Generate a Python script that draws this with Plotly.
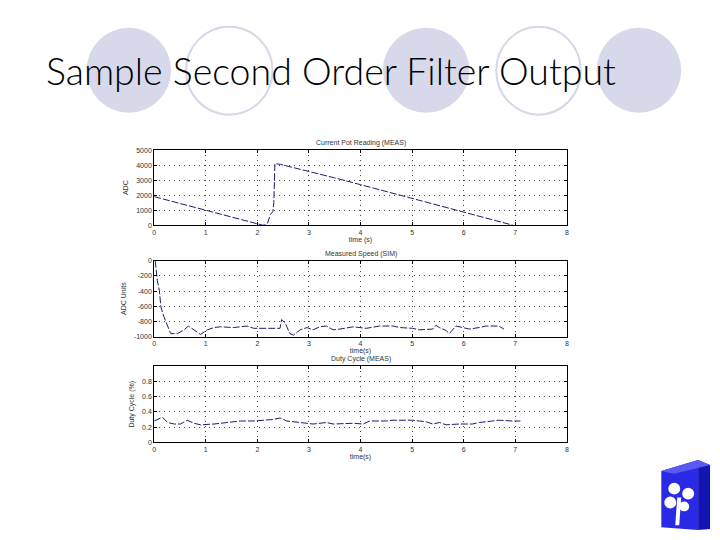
import plotly.graph_objects as go

# ---- data ----
pot_time = [0, 0.5, 1.0, 1.5, 1.8, 2.0, 2.05, 2.1, 2.15, 2.2, 2.25, 2.3, 2.32, 2.33, 2.34,
            2.45, 3.0, 3.5, 4.0, 4.5, 5.0, 5.5, 6.0, 6.5, 6.95]
pot_adc = [1900, 1450, 1000, 550, 280, 100, 20, 0, 20, 150, 700, 900, 1500, 2600, 4100,
           4050, 3600, 3150, 2700, 2250, 1800, 1350, 900, 450, 0]

speed_time = [0.02, 0.06, 0.1, 0.13, 0.19, 0.26, 0.32, 0.45, 0.58, 0.66, 0.77, 0.9, 1.03,
              1.16, 1.29, 1.54, 1.8, 1.93, 2.44, 2.47, 2.54, 2.63, 2.7, 2.83, 2.96, 3.08,
              3.21, 3.34, 3.47, 3.6, 3.86, 4.11, 4.37, 4.63, 4.76, 5.01, 5.14, 5.4, 5.46,
              5.53, 5.66, 5.72, 5.85, 5.98, 6.11, 6.3, 6.43, 6.68, 6.78]
speed_adc = [0, -260, -390, -610, -740, -870, -960, -960, -910, -860, -910, -970, -910,
             -880, -870, -880, -860, -890, -890, -775, -820, -960, -980, -910, -880, -910,
             -870, -860, -910, -900, -870, -890, -860, -860, -880, -890, -910, -900, -850,
             -880, -920, -960, -860, -880, -900, -880, -860, -860, -900]

duty_time = [0.0, 0.16, 0.26, 0.39, 0.51, 0.64, 0.77, 0.9, 1.16, 1.41, 1.67, 1.93, 2.06,
             2.31, 2.44, 2.57, 2.83, 3.08, 3.34, 3.47, 3.86, 4.05, 4.18, 4.5, 4.63, 5.01,
             5.14, 5.27, 5.4, 5.53, 5.66, 5.91, 6.17, 6.3, 6.56, 6.68, 6.94, 7.1]
duty_pct = [0.28, 0.33, 0.26, 0.24, 0.24, 0.29, 0.25, 0.23, 0.24, 0.26, 0.28, 0.28, 0.29,
            0.30, 0.32, 0.28, 0.26, 0.24, 0.26, 0.24, 0.25, 0.24, 0.28, 0.28, 0.29, 0.29,
            0.28, 0.27, 0.24, 0.26, 0.23, 0.24, 0.24, 0.26, 0.28, 0.29, 0.28, 0.28]

x_ticks = [0, 1, 2, 3, 4, 5, 6, 7, 8]
pot_ticks = [0, 1000, 2000, 3000, 4000, 5000]
speed_ticks = [0, -200, -400, -600, -800, -1000]
duty_ticks = [0, 0.2, 0.4, 0.6, 0.8]
duty_tick_text = ["0", "0.2", "0.4", "0.6", "0.8"]

titles = ["Current Pot Reading (MEAS)", "Measured Speed (SIM)", "Duty Cycle (MEAS)"]
x_titles = ["time (s)", "time(s)", "time(s)"]
y_titles = ["ADC", "ADC Units", "Duty Cycle (%)"]
slide_title = "Sample Second Order Filter Output"

# page body has an 8px margin; draw a 712x532 figure and shift page coords by 8px
OFF = 8
W, H = 720 - OFF, 540 - OFF
def px(x): return (x - OFF) / W
def py(y): return 1 - (y - OFF) / H

fig = go.Figure()
line_color = "#1c1c6c"
series = [(pot_time, pot_adc), (speed_time, speed_adc), (duty_time, duty_pct)]
for i, (xs, ys) in enumerate(series):
    fig.add_trace(go.Scatter(x=xs, y=ys, mode="lines",
                             line=dict(color=line_color, width=1, dash="7px,2px"),
                             xaxis="x" if i == 0 else f"x{i+1}",
                             yaxis="y" if i == 0 else f"y{i+1}",
                             showlegend=False, hoverinfo="skip"))

boxes = [(148, 224), (260, 337), (367, 444)]
x0, x1 = 153, 568
yranges = [[0, 5000], [-1000, 0], [0, 1]]
ytv = [pot_ticks, speed_ticks, duty_ticks]
ytt = [[str(v) for v in pot_ticks], [str(v) for v in speed_ticks], duty_tick_text]

small = dict(family="Liberation Sans, Arial", size=7, color="#333")
layout = {}
for i in range(3):
    sx = "" if i == 0 else str(i + 1)
    top, bot = boxes[i]
    common = dict(showline=True, mirror="ticks", linecolor="black", linewidth=1,
                  ticks="inside", ticklen=3, tickcolor="black", showgrid=True,
                  gridcolor="#444", griddash="1px,4px", gridwidth=1, zeroline=False,
                  tickfont=small)
    layout[f"xaxis{sx}"] = dict(domain=[px(x0), px(x1)], range=[0, 8], tickvals=x_ticks,
                                anchor=f"y{sx}",
                                title=dict(text=x_titles[i], font=small, standoff=2), **common)
    layout[f"yaxis{sx}"] = dict(domain=[py(bot), py(top)], range=yranges[i],
                                tickvals=ytv[i], ticktext=ytt[i], anchor=f"x{sx}",
                                title=dict(text=y_titles[i], font=small, standoff=6), **common)

annotations = []
for i in range(3):
    top, bot = boxes[i]
    annotations.append(dict(text=titles[i], xref="paper", yref="paper",
                            x=px((x0 + x1) / 2), y=py(top - 1), xanchor="center",
                            yanchor="bottom", showarrow=False, font=small))
annotations.append(dict(text=slide_title, xref="paper", yref="paper", x=px(42), y=py(67),
                        xanchor="left", yanchor="middle", showarrow=False,
                        font=dict(family="Lato, Liberation Sans", size=37.5, color="black",
                                  weight=300)))

shapes = []
fill_c = "#d8d8eb"
line_c = "#d6d6e6"
circles = [(85, 24, 170, 110, True), (185, 23, 272, 112, False), (383, 24, 470, 110, True),
           (497, 23, 582, 112, False), (598, 24, 683, 110, True)]
for (a, b, c, d, filled) in circles:
    shapes.append(dict(type="circle", xref="paper", yref="paper", layer="below",
                       x0=px(a), x1=px(c), y0=py(d), y1=py(b),
                       fillcolor=fill_c if filled else "rgba(0,0,0,0)",
                       line=dict(color=line_c, width=0 if filled else 2)))

def path(pts):
    return "M " + " L ".join(f"{px(x):.5f},{py(y):.5f}" for x, y in pts) + " Z"

shapes.append(dict(type="path", xref="paper", yref="paper",
                   path=path([(663, 473), (700, 462), (700, 533), (663, 530)]),
                   fillcolor="#2a2ae6", line=dict(width=0)))
shapes.append(dict(type="path", xref="paper", yref="paper",
                   path=path([(700, 462), (712, 467), (712, 532), (700, 533)]),
                   fillcolor="#1414b4", line=dict(width=0)))
shapes.append(dict(type="path", xref="paper", yref="paper",
                   path=path([(663, 473), (700, 462), (712, 467), (676, 476)]),
                   fillcolor="#5a5af0", line=dict(width=0)))
for (cx, cy, r) in [(676, 491, 6), (690, 496, 6), (672, 505, 6), (686, 509, 5)]:
    shapes.append(dict(type="circle", xref="paper", yref="paper",
                       x0=px(cx - r), x1=px(cx + r), y0=py(cy + r), y1=py(cy - r),
                       fillcolor="white", line=dict(width=0)))
shapes.append(dict(type="path", xref="paper", yref="paper",
                   path=path([(679, 500), (683, 500), (681, 528), (677, 528)]),
                   fillcolor="white", line=dict(width=0)))

fig.update_layout(width=W, height=H, margin=dict(l=0, r=0, t=0, b=0),
                  paper_bgcolor="white", plot_bgcolor="white",
                  annotations=annotations, shapes=shapes, **layout)

fig.write_html("out.html")
